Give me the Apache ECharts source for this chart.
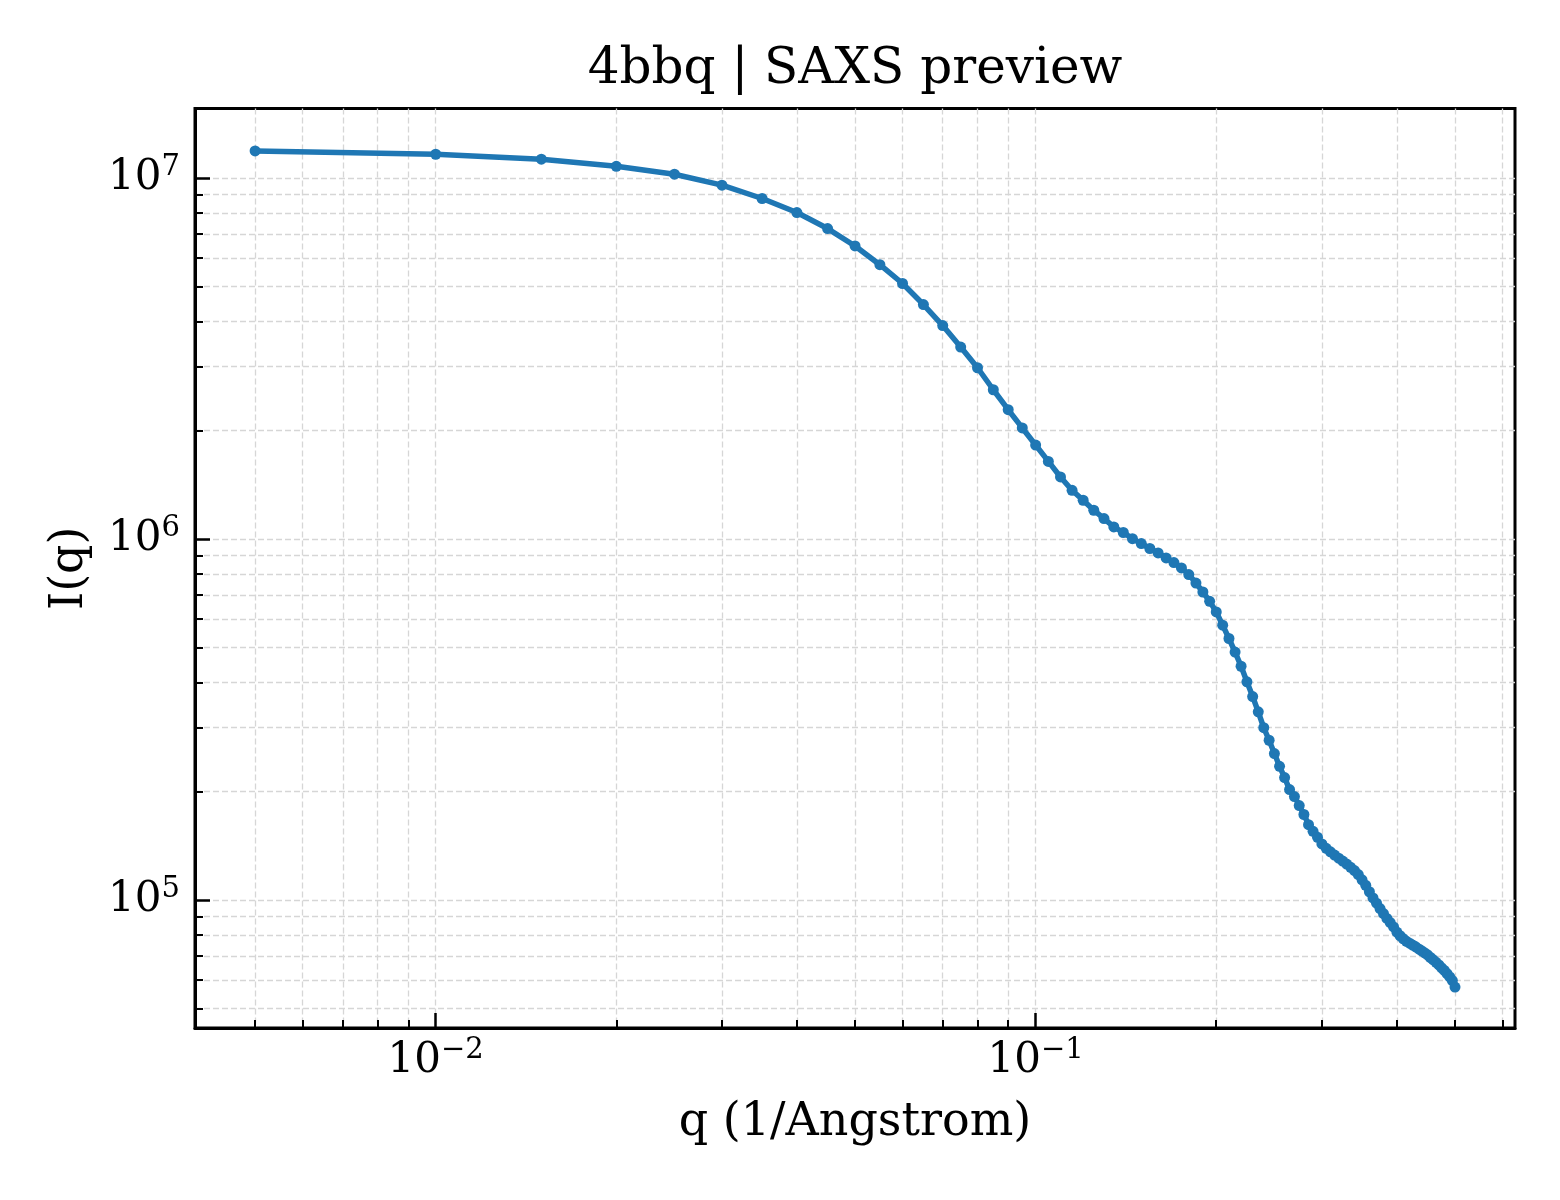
<!DOCTYPE html>
<html>
<head>
<meta charset="utf-8">
<title>4bbq | SAXS preview</title>
<script src="https://cdn.jsdelivr.net/npm/echarts@6/dist/echarts.min.js"></script>
<style>
html, body { margin: 0; padding: 0; background: #fff; }
#chart { width: 1560px; height: 1200px; }
</style>
</head>
<body>
<div id="chart"></div>
<script type="text/javascript">

// q grid (1/Angstrom)
var qValues = [
	0.005, 0.010, 0.015, 0.020, 0.025, 0.030, 0.035, 0.040, 0.045, 0.050,
	0.055, 0.060, 0.065, 0.070, 0.075, 0.080, 0.085, 0.090, 0.095, 0.100,
	0.105, 0.110, 0.115, 0.120, 0.125, 0.130, 0.135, 0.140, 0.145, 0.150,
	0.155, 0.160, 0.165, 0.170, 0.175, 0.180, 0.185, 0.190, 0.195, 0.200,
	0.205, 0.210, 0.215, 0.220, 0.225, 0.230, 0.235, 0.240, 0.245, 0.250,
	0.255, 0.260, 0.265, 0.270, 0.275, 0.280, 0.285, 0.290, 0.295, 0.300,
	0.305, 0.310, 0.315, 0.320, 0.325, 0.330, 0.335, 0.340, 0.345, 0.350,
	0.355, 0.360, 0.365, 0.370, 0.375, 0.380, 0.385, 0.390, 0.395, 0.400,
	0.405, 0.410, 0.415, 0.420, 0.425, 0.430, 0.435, 0.440, 0.445, 0.450,
	0.455, 0.460, 0.465, 0.470, 0.475, 0.480, 0.485, 0.490, 0.495, 0.500
];

// I(q)
var intensity = [
	1.188e7, 1.163e7, 1.127e7, 1.077e7, 1.024e7, 9.55e6, 8.77e6, 8.02e6, 7.24e6, 6.48e6,
	5.75e6, 5.10e6, 4.46e6, 3.90e6, 3.40e6, 2.98e6, 2.59e6, 2.28e6, 2.03e6, 1.82e6,
	1.64e6, 1.485e6, 1.364e6, 1.280e6, 1.201e6, 1.139e6, 1.080e6, 1.042e6, 1.002e6, 9.71e5,
	9.41e5, 9.15e5, 8.86e5, 8.60e5, 8.31e5, 7.97e5, 7.55e5, 7.13e5, 6.72e5, 6.28e5,
	5.77e5, 5.30e5, 4.86e5, 4.44e5, 4.02e5, 3.66e5, 3.32e5, 3.00e5, 2.77e5, 2.544e5,
	2.346e5, 2.183e5, 2.022e5, 1.934e5, 1.826e5, 1.725e5, 1.616e5, 1.550e5, 1.492e5, 1.430e5,
	1.390e5, 1.360e5, 1.332e5, 1.306e5, 1.282e5, 1.257e5, 1.232e5, 1.206e5, 1.176e5, 1.137e5,
	1.098e5, 1.054e5, 1.013e5, 9.80e4, 9.47e4, 9.17e4, 8.89e4, 8.66e4, 8.42e4, 8.15e4,
	7.96e4, 7.81e4, 7.68e4, 7.59e4, 7.50e4, 7.42e4, 7.32e4, 7.23e4, 7.14e4, 7.05e4,
	6.93e4, 6.83e4, 6.72e4, 6.61e4, 6.49e4, 6.38e4, 6.25e4, 6.12e4, 5.98e4, 5.74e4
];

// tick positions
var xMajorTicks = [0.01, 0.1];
var xMinorTicks = [0.005, 0.006, 0.007, 0.008, 0.009,
	0.02, 0.03, 0.04, 0.05, 0.06, 0.07, 0.08, 0.09,
	0.2, 0.3, 0.4, 0.5, 0.6];
var yMajorTicks = [1e5, 1e6, 1e7];
var yMinorTicks = [5e4, 6e4, 7e4, 8e4, 9e4,
	2e5, 3e5, 4e5, 5e5, 6e5, 7e5, 8e5, 9e5,
	2e6, 3e6, 4e6, 5e6, 6e6, 7e6, 8e6, 9e6];

var xRange = [0.00397, 0.6295];
var yRange = [44200, 1.557e7];

var serif = 'DejaVu Serif';
var gridLine = { color: '#d6d6d6', width: 1.3, type: [6, 3] };

var labelRich = {
	b: { fontFamily: serif, fontSize: 42, color: '#000', verticalAlign: 'bottom', lineHeight: 42 },
	s: { fontFamily: serif, fontSize: 29, color: '#000', verticalAlign: 'bottom', lineHeight: 29, padding: [0, 0, 17, 0] }
};

function powerLabel(value) {
	var e = Math.round(Math.log(value) / Math.LN10);
	var txt = e < 0 ? '\u2212' + (-e) : '' + e;
	return '{b|10}{s|' + txt + '}';
}

var points = [];
for (var i = 0; i < qValues.length; i++) {
	points.push([qValues[i], intensity[i]]);
}

var chart = echarts.init(document.getElementById('chart'));

var option = {
	animation: false,
	backgroundColor: '#fff',
	title: {
		text: '4bbq | SAXS preview',
		left: 850,
		top: 40,
		textAlign: 'center',
		textStyle: { fontFamily: serif, fontSize: 50, fontWeight: 'normal', color: '#000' }
	},
	grid: {
		left: 195, right: 45, top: 108.5, bottom: 172,
		show: true, borderColor: '#000', borderWidth: 3,
		containLabel: false, outerBoundsMode: 'none'
	},
	xAxis: [{
		type: 'log', logBase: 10, min: xRange[0], max: xRange[1], position: 'bottom',
		name: 'q (1/Angstrom)', nameLocation: 'middle', nameGap: 72,
		nameTextStyle: { fontFamily: serif, fontSize: 46, color: '#000' },
		axisLine: { show: true, lineStyle: { color: '#000', width: 3 } },
		axisTick: { show: true, inside: true, length: 15, lineStyle: { color: '#000', width: 2.5 }, customValues: xMajorTicks },
		axisLabel: { show: true, margin: 12, customValues: xMajorTicks, formatter: powerLabel, rich: labelRich },
		splitLine: { show: true, lineStyle: gridLine },
		minorTick: { show: false }, minorSplitLine: { show: false }
	}, {
		type: 'log', logBase: 10, min: xRange[0], max: xRange[1], position: 'bottom', offset: 0,
		axisLine: { show: false },
		axisTick: { show: true, inside: true, length: 8, lineStyle: { color: '#000', width: 2 }, customValues: xMinorTicks },
		axisLabel: { show: false },
		splitLine: { show: true, lineStyle: gridLine },
		minorTick: { show: false }, minorSplitLine: { show: false }
	}],
	yAxis: [{
		type: 'log', logBase: 10, min: yRange[0], max: yRange[1], position: 'left',
		name: 'I(q)', nameLocation: 'middle', nameGap: 102,
		nameTextStyle: { fontFamily: serif, fontSize: 46, color: '#000' },
		axisLine: { show: true, lineStyle: { color: '#000', width: 3 } },
		axisTick: { show: true, inside: true, length: 15, lineStyle: { color: '#000', width: 2.5 }, customValues: yMajorTicks },
		axisLabel: { show: true, margin: 15, customValues: yMajorTicks, formatter: powerLabel, rich: labelRich },
		splitLine: { show: true, lineStyle: gridLine },
		minorTick: { show: false }, minorSplitLine: { show: false }
	}, {
		type: 'log', logBase: 10, min: yRange[0], max: yRange[1], position: 'left', offset: 0,
		axisLine: { show: false },
		axisTick: { show: true, inside: true, length: 8, lineStyle: { color: '#000', width: 2 }, customValues: yMinorTicks },
		axisLabel: { show: false },
		splitLine: { show: true, lineStyle: gridLine },
		minorTick: { show: false }, minorSplitLine: { show: false }
	}],
	series: [{
		name: 'I(q)',
		type: 'line',
		xAxisIndex: 0,
		yAxisIndex: 0,
		data: points,
		symbol: 'circle',
		symbolSize: 11,
		showSymbol: true,
		showAllSymbol: true,
		lineStyle: { color: '#1f77b4', width: 5.5 },
		itemStyle: { color: '#1f77b4' },
		z: 5
	}]
};

chart.setOption(option);
</script>
</body>
</html>
